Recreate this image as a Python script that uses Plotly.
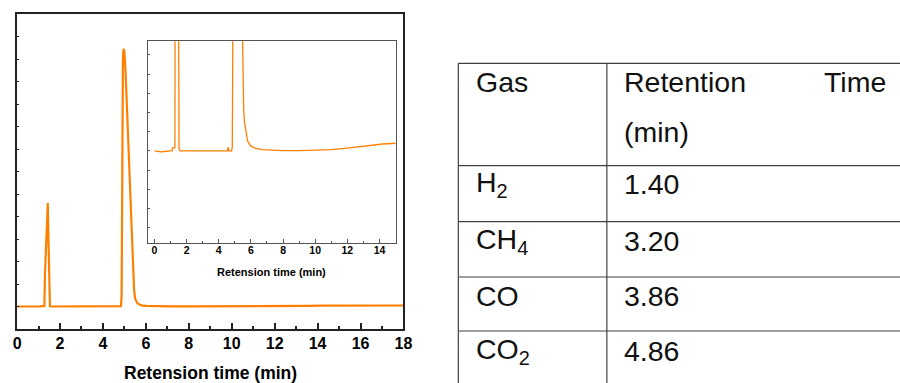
import plotly.graph_objects as go

# Chromatogram: retention time (min) and detector signal (a.u., baseline = 0)
time_min = [0.0, 0.2, 0.4, 0.6, 0.8, 1.0, 1.10, 1.12, 1.25, 1.27, 1.30, 1.36, 1.43,
            1.46, 1.50, 1.53, 1.6, 2.0, 3.0, 4.0, 4.55, 4.57, 4.60, 4.62, 4.80,
            4.84, 4.87, 4.90, 4.93, 4.96, 5.00, 5.05, 5.10, 5.20, 5.30, 5.40,
            5.45, 5.50, 5.55, 5.60, 5.70, 5.80, 6.0, 6.3, 6.7, 7.2, 8.0, 9.0,
            10.0, 11.0, 12.0, 12.8, 13.5, 14.2, 15.0, 16.0, 17.0, 18.0]
signal = [0.0, -0.003, -0.005, -0.003, 0.0, 0.0, 0.0, 0.016, 0.016, 0.016, 1.5, 3.4, 4.6,
          3.0, 0.8, 0.01, 0.0, 0.0, 0.0, 0.0, 0.0, 0.016, 0.016, 0.0, 0.0,
          0.02, 0.5, 7.0, 11.0, 11.45, 11.3, 10.5, 9.3, 6.9, 4.4, 1.9,
          0.75, 0.35, 0.22, 0.15, 0.085, 0.05, 0.025, 0.013, 0.007, 0.004, 0.002, 0.002,
          0.003, 0.007, 0.015, 0.022, 0.031, 0.036, 0.040, 0.042, 0.044, 0.045]

# Retention time table
gases = ["H<sub>2</sub>", "CH<sub>4</sub>", "CO", "CO<sub>2</sub>"]
retention = ["1.40", "3.20", "3.86", "4.86"]
header_gas = "Gas"
header_rt = ["Retention", "Time", "(min)"]
axis_title = "Retension time (min)"

W, H = 900, 383
FONT = "Arial, Liberation Sans, sans-serif"
ORANGE = "#FF8000"


def px(x):
    return x / W


def py(y):
    return 1 - y / H


fig = go.Figure()
fig.add_trace(go.Scatter(x=time_min, y=signal, mode="lines",
                         line=dict(color=ORANGE, width=2.2), xaxis="x", yaxis="y",
                         showlegend=False, hoverinfo="skip"))
fig.add_trace(go.Scatter(x=time_min, y=signal, mode="lines",
                         line=dict(color=ORANGE, width=1.3), xaxis="x2", yaxis="y2",
                         showlegend=False, hoverinfo="skip", cliponaxis=True))

main_frame = dict(showline=True, linecolor="#222222", linewidth=2, mirror=True,
                  showgrid=False, zeroline=False)
inset_frame = dict(showline=True, linecolor="#555555", linewidth=1.2, mirror=True,
                   showgrid=False, zeroline=False)

fig.update_layout(
    width=W, height=H,
    margin=dict(l=0, r=0, t=0, b=0),
    paper_bgcolor="white", plot_bgcolor="white",
    xaxis=dict(domain=[px(13.3), px(405.3)], range=[0, 18], anchor="y",
               tickmode="linear", tick0=0, dtick=2, ticks="inside", ticklen=6,
               tickwidth=1.5, tickcolor="#222222",
               minor=dict(ticks="inside", ticklen=3, dtick=1, tickcolor="#222222"),
               tickfont=dict(family=FONT, size=16, color="black", weight="bold"),
               ticklabelstandoff=-1, **main_frame),
    yaxis=dict(domain=[py(329), py(14)], range=[-1, 13], anchor="x",
               tickmode="linear", tick0=0, dtick=1, ticks="inside", ticklen=2,
               tickcolor="#222222", showticklabels=False, **main_frame),
    xaxis2=dict(domain=[px(146), px(397.3)], range=[-0.41, 15.0], anchor="y2",
                tickmode="linear", tick0=0, dtick=2, ticks="inside", ticklen=4,
                tickcolor="#555555",
                minor=dict(ticks="inside", ticklen=2, dtick=1, tickcolor="#555555"),
                tickfont=dict(family=FONT, size=10.5, color="black", weight="bold"),
                ticklabelstandoff=-2, **inset_frame),
    yaxis2=dict(domain=[py(242.7), py(41.3)], range=[-0.478, 0.571], anchor="x2",
                tickmode="linear", tick0=0, dtick=0.1, ticks="inside", ticklen=2,
                tickcolor="#555555", showticklabels=False, **inset_frame),
)

annotations = [
    dict(text=axis_title, x=px(209.3), y=py(372.5), xref="paper", yref="paper",
         xanchor="center", yanchor="middle", showarrow=False,
         font=dict(family=FONT, size=17.5, color="black", weight="bold")),
    dict(text=axis_title, x=px(271.7), y=py(272), xref="paper", yref="paper",
         xanchor="center", yanchor="middle", showarrow=False,
         font=dict(family=FONT, size=11, color="black", weight="bold")),
]

# Table grid
LINE = dict(color="#404040", width=1.2)
t_left, t_div, t_top = 461, 611.7, 63.3
row_lines = [165.7, 221.7, 277, 331]
shapes = [
    dict(type="line", xref="paper", yref="paper", x0=px(t_left), x1=1.05,
         y0=py(t_top), y1=py(t_top), line=LINE),
    dict(type="line", xref="paper", yref="paper", x0=px(t_left), x1=px(t_left),
         y0=py(t_top), y1=-0.05, line=LINE),
    dict(type="line", xref="paper", yref="paper", x0=px(t_div), x1=px(t_div),
         y0=py(t_top), y1=-0.05, line=LINE),
]
for yl in row_lines:
    shapes.append(dict(type="line", xref="paper", yref="paper", x0=px(t_left), x1=1.05,
                       y0=py(yl), y1=py(yl), line=LINE))

TFONT = dict(family=FONT, size=28.5, color="#111111")


def cell(text, x, y, anchor="left"):
    return dict(text=text, x=px(x), y=py(y), xref="paper", yref="paper",
                xanchor=anchor, yanchor="middle", showarrow=False, font=TFONT)


annotations.append(cell(header_gas, 476.7, 82))
annotations.append(cell(header_rt[0], 626.7, 82))
annotations.append(cell(header_rt[1], 897, 82, anchor="right"))
annotations.append(cell(header_rt[2], 626.7, 131.5))
row_centers = [184, 240.5, 296, 350.5]
for g, r, yc in zip(gases, retention, row_centers):
    annotations.append(cell(g, 476.7, yc))
    annotations.append(cell(r, 626.7, yc))

fig.update_layout(shapes=shapes, annotations=annotations)
fig.write_html("out.html")
